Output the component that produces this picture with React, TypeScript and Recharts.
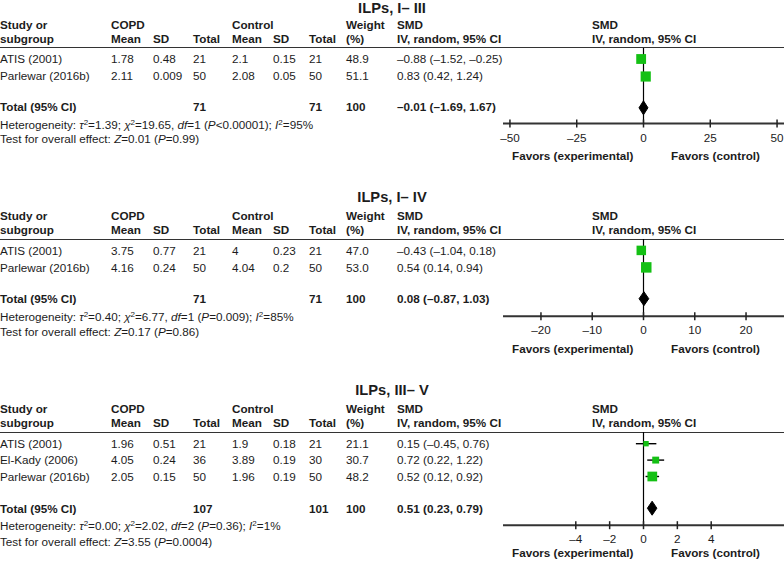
import React from 'react';
import { ComposedChart, Scatter, ErrorBar, Area, XAxis, YAxis, ReferenceLine } from 'recharts';

// ILPs, I– III
const studies1 = ['ATIS (2001)', 'Parlewar (2016b)'];
const copdMean1 = [1.78, 2.11];
const copdSd1 = [0.48, 0.009];
const copdN1 = [21, 50];
const ctrlMean1 = [2.1, 2.08];
const ctrlSd1 = [0.15, 0.05];
const ctrlN1 = [21, 50];
const weight1 = [48.9, 51.1];
const smd1 = [-0.88, 0.83];
const lo1 = [-1.52, 0.42];
const hi1 = [-0.25, 1.24];
const totals1 = [71, 71, 100];
const totalSmd1 = [-0.01, -1.69, 1.67];
const het1 = ['1.39', '19.65', '1', '<0.00001', '95'];
const test1 = ['0.01', '=0.99'];
const ticks1 = [-50, -25, 0, 25, 50];

// ILPs, I– IV
const studies2 = ['ATIS (2001)', 'Parlewar (2016b)'];
const copdMean2 = [3.75, 4.16];
const copdSd2 = [0.77, 0.24];
const copdN2 = [21, 50];
const ctrlMean2 = [4, 4.04];
const ctrlSd2 = [0.23, 0.2];
const ctrlN2 = [21, 50];
const weight2 = [47.0, 53.0];
const smd2 = [-0.43, 0.54];
const lo2 = [-1.04, 0.14];
const hi2 = [0.18, 0.94];
const totals2 = [71, 71, 100];
const totalSmd2 = [0.08, -0.87, 1.03];
const het2 = ['0.40', '6.77', '1', '=0.009', '85'];
const test2 = ['0.17', '=0.86'];
const ticks2 = [-20, -10, 0, 10, 20];

// ILPs, III– V
const studies3 = ['ATIS (2001)', 'El-Kady (2006)', 'Parlewar (2016b)'];
const copdMean3 = [1.96, 4.05, 2.05];
const copdSd3 = [0.51, 0.24, 0.15];
const copdN3 = [21, 36, 50];
const ctrlMean3 = [1.9, 3.89, 1.96];
const ctrlSd3 = [0.18, 0.19, 0.19];
const ctrlN3 = [21, 30, 50];
const weight3 = [21.1, 30.7, 48.2];
const smd3 = [0.15, 0.72, 0.52];
const lo3 = [-0.45, 0.22, 0.12];
const hi3 = [0.76, 1.22, 0.92];
const totals3 = [107, 101, 100];
const totalSmd3 = [0.51, 0.23, 0.79];
const het3 = ['0.00', '2.02', '2', '=0.36', '1'];
const test3 = ['3.55', '=0.0004'];
const ticks3 = [-4, -2, 0, 2, 4];

const FONT = '"Liberation Sans", Arial, Helvetica, sans-serif';
const FS = 11.7;
const INK = '#1c1c1c';
const GREEN = '#14c014';
const COLS = [0, 111, 153, 193, 232, 273, 309, 346, 397];
const PLOT_X = 592;

const fmt = (v: number) => (v < 0 ? '–' : '') + Math.abs(v).toFixed(2);
const fmtTick = (v: number) => (v < 0 ? '–' : '') + Math.abs(v);
const ci = (e: number, l: number, h: number) => `${fmt(e)} (${fmt(l)}, ${fmt(h)})`;

function T({ x, y, children, bold, center }: any) {
  return (
    <div
      style={{
        position: 'absolute',
        left: x,
        top: y - 7,
        lineHeight: '14px',
        fontSize: FS,
        fontWeight: bold ? 700 : 400,
        whiteSpace: 'nowrap',
        transform: center ? 'translateX(-50%)' : undefined,
      }}
    >
      {children}
    </div>
  );
}

const Sup = ({ children }: any) => (
  <span style={{ fontSize: 8, position: 'relative', top: -4, lineHeight: 0 }}>{children}</span>
);

const Square = (props: any) => {
  const { cx, cy, payload } = props;
  if (cx == null || cy == null) return null;
  const s = 2 + payload.w * 0.16;
  return <rect x={cx - s / 2} y={cy - s / 2} width={s} height={s} fill={GREEN} />;
};

const AxisTick = (props: any) => {
  const { x, y, payload } = props;
  return (
    <g>
      <line x1={x} x2={x} y1={y - 4} y2={y + 4} stroke="#222" strokeWidth={1.5} />
      <text x={x} y={y + 18} textAnchor="middle" fontSize={FS} fontFamily={FONT} fill={INK}>
        {fmtTick(payload.value)}
      </text>
    </g>
  );
};

function Panel(props: any) {
  const { title, studies, cols, weight, smd, lo, hi, totals, totalSmd, het, test, ticks, half, L } = props;
  const rowY = (i: number) => L.row0 + i * L.pitch;
  const totalIdx = (L.totalY - L.row0) / L.pitch;
  const yDomain = [(L.H - L.row0) / L.pitch, (L.axisY - L.row0) / L.pitch];
  const d = 7 / L.pitch;

  const points = smd.map((v: number, i: number) => ({
    x: v,
    y: i,
    w: weight[i],
    err: [v - lo[i], hi[i] - v],
  }));
  const diamond = [
    { x: totalSmd[1], yr: [totalIdx, totalIdx] },
    { x: totalSmd[0], yr: [totalIdx - d, totalIdx + d] },
    { x: totalSmd[2], yr: [totalIdx, totalIdx] },
  ];

  const chartLeft = 490;
  const axisH = 24;

  return (
    <>
      <T x={392} y={L.titleY} bold center>
        <span style={{ fontSize: 14.7 }}>{title}</span>
      </T>
      <T x={COLS[0]} y={L.H - 23} bold>Study or</T>
      <T x={COLS[0]} y={L.H - 9} bold>subgroup</T>
      <T x={COLS[1]} y={L.H - 23} bold>COPD</T>
      <T x={COLS[1]} y={L.H - 9} bold>Mean</T>
      <T x={COLS[2]} y={L.H - 9} bold>SD</T>
      <T x={COLS[3]} y={L.H - 9} bold>Total</T>
      <T x={COLS[4]} y={L.H - 23} bold>Control</T>
      <T x={COLS[4]} y={L.H - 9} bold>Mean</T>
      <T x={COLS[5]} y={L.H - 9} bold>SD</T>
      <T x={COLS[6]} y={L.H - 9} bold>Total</T>
      <T x={COLS[7]} y={L.H - 23} bold>Weight</T>
      <T x={COLS[7]} y={L.H - 9} bold>(%)</T>
      <T x={COLS[8]} y={L.H - 23} bold>SMD</T>
      <T x={COLS[8]} y={L.H - 9} bold>IV, random, 95% CI</T>
      <T x={PLOT_X} y={L.H - 23} bold>SMD</T>
      <T x={PLOT_X} y={L.H - 9} bold>IV, random, 95% CI</T>
      <div style={{ position: 'absolute', left: 0, top: L.H - 0.5, width: 784, borderTop: '1px solid #333' }} />

      {studies.map((s: string, i: number) => (
        <React.Fragment key={s}>
          <T x={COLS[0]} y={rowY(i)}>{s}</T>
          {cols.map((c: number[], j: number) => (
            <T key={j} x={COLS[j + 1]} y={rowY(i)}>{String(c[i])}</T>
          ))}
          <T x={COLS[7]} y={rowY(i)}>{weight[i].toFixed(1)}</T>
          <T x={COLS[8]} y={rowY(i)}>{ci(smd[i], lo[i], hi[i])}</T>
        </React.Fragment>
      ))}

      <T x={COLS[0]} y={L.totalY} bold>Total (95% CI)</T>
      <T x={COLS[3]} y={L.totalY} bold>{totals[0]}</T>
      <T x={COLS[6]} y={L.totalY} bold>{totals[1]}</T>
      <T x={COLS[7]} y={L.totalY} bold>{totals[2]}</T>
      <T x={COLS[8]} y={L.totalY} bold>{ci(totalSmd[0], totalSmd[1], totalSmd[2])}</T>
      <T x={COLS[0]} y={L.hetY}>
        Heterogeneity: <i>τ</i><Sup>2</Sup>={het[0]}; <i>χ</i><Sup>2</Sup>={het[1]}, <i>df</i>={het[2]} (<i>P</i>{het[3]}); <i>I</i><Sup>2</Sup>={het[4]}%
      </T>
      <T x={COLS[0]} y={L.testY}>
        Test for overall effect: <i>Z</i>={test[0]} (<i>P</i>{test[1]})
      </T>

      <div style={{ position: 'absolute', left: chartLeft, top: L.H }}>
        <ComposedChart
          width={784 - chartLeft}
          height={L.axisY - L.H + axisH}
          margin={{ top: 0, right: 0, bottom: 0, left: 503 - chartLeft }}
        >
          <XAxis
            type="number"
            dataKey="x"
            domain={[-half, half]}
            ticks={ticks}
            allowDataOverflow
            height={axisH}
            tickLine={false}
            tickSize={0}
            tickMargin={0}
            axisLine={{ stroke: '#333', strokeWidth: 2 }}
            tick={<AxisTick />}
            interval={0}
          />
          <YAxis type="number" dataKey="y" domain={yDomain} reversed hide allowDataOverflow />
          <ReferenceLine x={0} stroke="#000" strokeWidth={1.2} />
          <Area
            data={diamond}
            dataKey="yr"
            type="linear"
            stroke="#000"
            strokeWidth={1}
            fill="#000"
            fillOpacity={1}
            dot={false}
            activeDot={false}
            isAnimationActive={false}
          />
          <Scatter data={points} shape={<Square />} isAnimationActive={false}>
            <ErrorBar dataKey="err" direction="x" width={0} stroke="#000" strokeWidth={1.4} />
          </Scatter>
        </ComposedChart>
      </div>

      <T x={512} y={L.favorsY} bold>Favors (experimental)</T>
      <T x={671} y={L.favorsY} bold>Favors (control)</T>
    </>
  );
}

export default function App() {
  return (
    <div
      style={{
        position: 'absolute',
        left: 0,
        top: 0,
        width: 784,
        height: 564,
        background: '#fff',
        fontFamily: FONT,
        color: INK,
        overflow: 'hidden',
      }}
    >
      <Panel
        title="ILPs, I– III"
        studies={studies1}
        cols={[copdMean1, copdSd1, copdN1, ctrlMean1, ctrlSd1, ctrlN1]}
        weight={weight1}
        smd={smd1}
        lo={lo1}
        hi={hi1}
        totals={totals1}
        totalSmd={totalSmd1}
        het={het1}
        test={test1}
        ticks={ticks1}
        half={52.6}
        L={{ titleY: 8, H: 47.5, row0: 58.5, pitch: 17.5, totalY: 107.3, axisY: 123, hetY: 125, testY: 139, favorsY: 156 }}
      />
      <Panel
        title="ILPs, I– IV"
        studies={studies2}
        cols={[copdMean2, copdSd2, copdN2, ctrlMean2, ctrlSd2, ctrlN2]}
        weight={weight2}
        smd={smd2}
        lo={lo2}
        hi={hi2}
        totals={totals2}
        totalSmd={totalSmd2}
        het={het2}
        test={test2}
        ticks={ticks2}
        half={27.4}
        L={{ titleY: 197, H: 239.3, row0: 250.7, pitch: 17, totalY: 299, axisY: 316.5, hetY: 317, testY: 332, favorsY: 348.5 }}
      />
      <Panel
        title="ILPs, III– V"
        studies={studies3}
        cols={[copdMean3, copdSd3, copdN3, ctrlMean3, ctrlSd3, ctrlN3]}
        weight={weight3}
        smd={smd3}
        lo={lo3}
        hi={hi3}
        totals={totals3}
        totalSmd={totalSmd3}
        het={het3}
        test={test3}
        ticks={ticks3}
        half={8.3}
        L={{ titleY: 390, H: 432.3, row0: 444, pitch: 16.4, totalY: 508.5, axisY: 525.5, hetY: 526, testY: 542, favorsY: 553 }}
      />
    </div>
  );
}
